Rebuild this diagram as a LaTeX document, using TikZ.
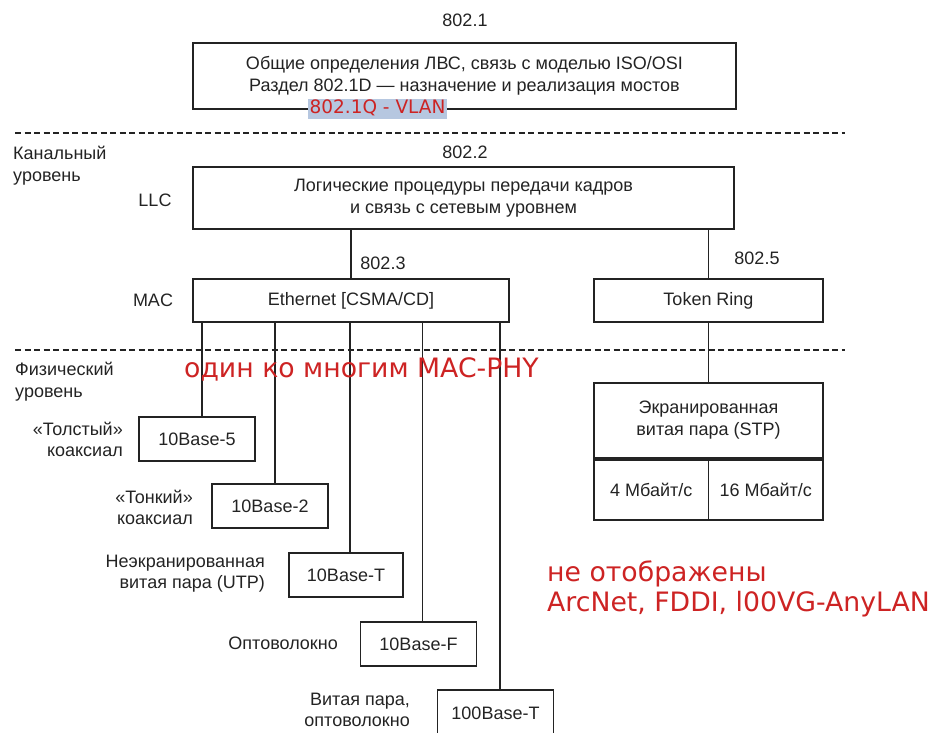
\documentclass[tikz,border=0pt]{standalone}
\usepackage{fontspec}
\setmainfont{Liberation Sans}
\newfontfamily\notefont{DejaVu Sans}
\definecolor{ink}{RGB}{35,35,35}
\definecolor{notered}{RGB}{205,35,35}
\definecolor{notebg}{RGB}{182,199,224}

\begin{document}
\begin{tikzpicture}[x=1pt,y=-1pt,
    every node/.style={text=ink, font=\fontsize{18}{22}\selectfont},
    box/.style={draw=ink, line width=1.8pt, align=center, inner sep=0pt},
    lbl/.style={align=right, anchor=east, inner sep=0pt, font=\fontsize{18}{21}\selectfont},
    layer/.style={align=left, anchor=west, inner sep=0pt},
    link/.style={draw=ink, line width=1.8pt},
    sep/.style={draw=ink, line width=1.8pt, dash pattern=on 6pt off 3.5pt},
    note/.style={text=notered, font=\notefont\fontsize{26.7}{30}\selectfont, align=left, inner sep=0pt}]
  \useasboundingbox (0,0) rectangle (930,732);

  \coordinate (S1a) at (15,133);
  \coordinate (S1b) at (845,133);
  \coordinate (S2a) at (15,350);
  \coordinate (S2b) at (845,350);
  \draw[sep] (S1a) -- (S1b);
  \draw[sep] (S2a) -- (S2b);

  \node (n8021) at (465,20) {802.1};
  \node[box, minimum width=543, minimum height=66] (gen) at (464.5,76)
    {Общие определения ЛВС, связь с моделью ISO/OSI\\Раздел 802.1D — назначение и реализация мостов};
  \node[fill=notebg, text=notered, font=\notefont\fontsize{18.5}{22}\selectfont,
    inner xsep=1.5pt, inner ysep=1pt, text height=14pt, text depth=4pt] (vlan) at (377.5,108.5) {802.1Q - VLAN};

  \node[layer] (kanal) at (13,166) {Канальный\\уровень};
  \node (n8022) at (465,152) {802.2};
  \node[box, minimum width=541, minimum height=62] (llc) at (463.5,198)
    {Логические процедуры передачи кадров\\и связь с сетевым уровнем};
  \node (llcL) at (155,200) {LLC};

  \node[box, minimum width=316, minimum height=43] (mac) at (351,300.5) {Ethernet [CSMA/CD]};
  \node (macL) at (153,300) {MAC};
  \node (n8023) at (383,263) {802.3};
  \node[box, minimum width=229, minimum height=43] (tr) at (708.5,300.5) {Token Ring};
  \node (n8025) at (757,258) {802.5};

  \node[layer] (fiz) at (15,382) {Физический\\уровень};
  \node[box, minimum width=229, minimum height=75] (stp) at (708.5,420.5) {Экранированная\\витая пара (STP)};
  \node[box, minimum width=114.5, minimum height=60, anchor=north west] (s4) at (stp.south west) {4 Мбайт/с};
  \node[box, minimum width=114.5, minimum height=60, anchor=north east] (s16) at (stp.south east) {16 Мбайт/с};

  \node[box, minimum width=116, minimum height=44] (b5) at (197,439) {10Base-5};
  \node[box, minimum width=116, minimum height=44] (b2) at (270,506) {10Base-2};
  \node[box, minimum width=114, minimum height=44] (bT) at (346,575) {10Base-T};
  \node[box, minimum width=116, minimum height=44] (bF) at (418.5,644) {10Base-F};
  \node[box, minimum width=116, minimum height=46] (b100) at (495.5,713) {100Base-T};

  \node[lbl] (l5) at (123,439) {«Толстый»\\коаксиал};
  \node[lbl] (l2) at (193,507) {«Тонкий»\\коаксиал};
  \node[lbl] (lT) at (265,574) {Неэкранированная\\витая пара (UTP)};
  \node[lbl] (lF) at (338,643) {Оптоволокно};
  \node[lbl] (l100) at (410,710) {Витая пара,\\оптоволокно};

  \draw[link] (mac.north) -- (mac.north |- llc.south);
  \draw[link] (tr.north) -- (tr.north |- llc.south);
  \draw[link] (tr.south) -- (stp.north);
  \draw[link] ([xshift=5pt]b5.north) -- ([xshift=5pt]b5.north |- mac.south);
  \draw[link] ([xshift=5pt]b2.north) -- ([xshift=5pt]b2.north |- mac.south);
  \draw[link] ([xshift=4pt]bT.north) -- ([xshift=4pt]bT.north |- mac.south);
  \draw[link] ([xshift=4pt]bF.north) -- ([xshift=4pt]bF.north |- mac.south);
  \draw[link] ([xshift=4.5pt]b100.north) -- ([xshift=4.5pt]b100.north |- mac.south);

  \node[note, anchor=base west] (onemany) at (184,377) {один ко многим MAC-PHY};
  \node[note, anchor=west] (hidden) at (547,589) {не отображены\\ArcNet, FDDI, l00VG-AnyLAN};
\end{tikzpicture}
\end{document}
